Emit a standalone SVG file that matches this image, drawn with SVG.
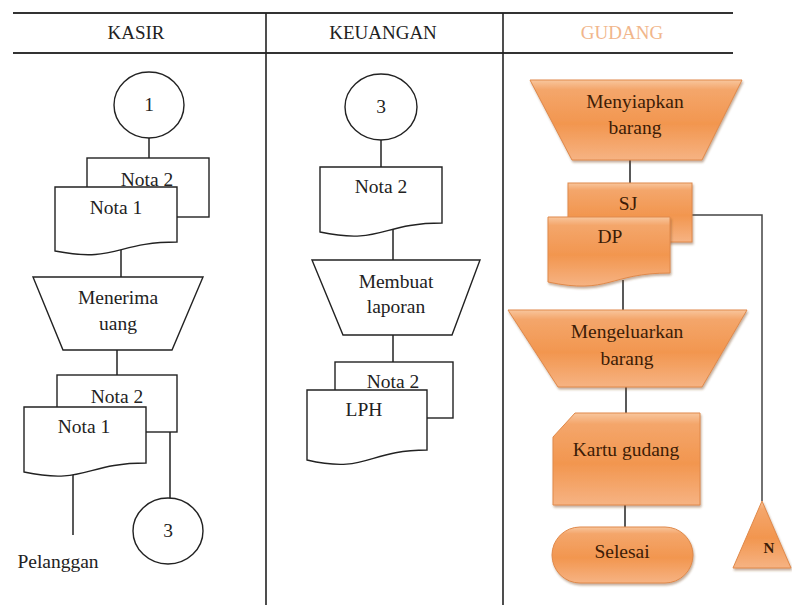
<svg xmlns="http://www.w3.org/2000/svg" width="792" height="605" viewBox="0 0 792 605">
<style>
text{font-family:'Liberation Serif','Times New Roman',serif;font-size:19.5px;text-anchor:middle}
.t{fill:#222}
.g{fill:#3d1c06}
.s{fill:#fff;stroke:#222;stroke-width:1.4}
.o{fill:url(#og);stroke:#e0894a;stroke-width:1;filter:url(#sh)}
.c{stroke:#222;stroke-width:1.5;fill:none}
.rule{stroke:#333;stroke-width:2.2}
.lane{stroke:#222;stroke-width:1.6}
</style>
<defs>
<linearGradient id="og" x1="0" y1="0" x2="0" y2="1">
<stop offset="0" stop-color="#f8c69d"/>
<stop offset="0.12" stop-color="#f4a66b"/>
<stop offset="0.55" stop-color="#f2964f"/>
<stop offset="1" stop-color="#f6b383"/>
</linearGradient>
<filter id="sh" x="-10%" y="-10%" width="130%" height="140%">
<feDropShadow dx="1" dy="2" stdDeviation="1.2" flood-color="#7a4a20" flood-opacity="0.45"/>
</filter>
</defs>
<rect width="792" height="605" fill="#fff"/>
<g id="header">
<line class="rule" x1="13" y1="13" x2="733" y2="13"/>
<line class="rule" x1="13" y1="53" x2="733" y2="53"/>
<line class="lane" x1="266" y1="13" x2="266" y2="605"/>
<line class="lane" x1="503" y1="13" x2="503" y2="605"/>
<text class="t" x="136" y="39" style="font-size:19px">KASIR</text>
<text class="t" x="383" y="39" style="font-size:19px">KEUANGAN</text>
<text x="622" y="39" fill="#f1b68b" style="font-size:19px">GUDANG</text>
</g>
<g id="connectors">
<line class="c" x1="149" y1="138" x2="149" y2="158"/>
<line class="c" x1="121" y1="250" x2="121" y2="277"/>
<line class="c" x1="117" y1="350" x2="117" y2="375"/>
<line class="c" x1="170" y1="432" x2="170" y2="498"/>
<line class="c" x1="73" y1="470" x2="73" y2="535"/>
<line class="c" x1="381" y1="140" x2="381" y2="167"/>
<line class="c" x1="393" y1="228" x2="393" y2="260"/>
<line class="c" x1="393" y1="335" x2="393" y2="362"/>
<line class="c" x1="630" y1="160" x2="630" y2="183"/>
<polyline class="c" points="692,215 762,215 762,501" style="stroke:#444"/>
<line class="c" x1="623" y1="280" x2="623" y2="310"/>
<line class="c" x1="626" y1="387" x2="626" y2="413"/>
<line class="c" x1="625" y1="505" x2="625" y2="527"/>
</g>
<g id="kasir-start">
<ellipse class="s" cx="149" cy="105" rx="35" ry="33"/>
<text class="t" x="149" y="111">1</text>
</g>
<g id="kasir-docs1">
<rect class="s" x="87" y="158" width="122" height="59"/>
<path class="s" d="M55,187 H177 V242 C116,242 116,263 55,251 Z"/>
<text class="t" x="147" y="186">Nota 2</text>
<text class="t" x="116" y="214">Nota 1</text>
</g>
<g id="kasir-process">
<path class="s" d="M33,277 H203 L172,350 H63 Z"/>
<text class="t" x="118" y="304">Menerima</text>
<text class="t" x="118" y="330">uang</text>
</g>
<g id="kasir-docs2">
<rect class="s" x="57" y="375" width="120" height="57"/>
<path class="s" d="M24,407 H146 V463 C85,463 85,485 24,472 Z"/>
<text class="t" x="117" y="403">Nota 2</text>
<text class="t" x="84" y="433">Nota 1</text>
</g>
<g id="kasir-conn3">
<ellipse class="s" cx="168" cy="531" rx="35" ry="33"/>
<text class="t" x="168" y="537">3</text>
</g>
<g id="pelanggan">
<text class="t" x="58" y="568">Pelanggan</text>
</g>
<g id="keu-conn3">
<ellipse class="s" cx="381" cy="107" rx="36" ry="33"/>
<text class="t" x="381" y="113">3</text>
</g>
<g id="keu-nota2">
<path class="s" d="M320,167 H442 V223 C381,223 381,245 320,232 Z"/>
<text class="t" x="381" y="193">Nota 2</text>
</g>
<g id="keu-process">
<path class="s" d="M312,260 H480 L452,335 H343 Z"/>
<text class="t" x="396" y="288">Membuat</text>
<text class="t" x="396" y="313">laporan</text>
</g>
<g id="keu-docs">
<rect class="s" x="335" y="362" width="118" height="56"/>
<path class="s" d="M307,390 H427 V450 C367,450 367,474 307,460 Z"/>
<text class="t" x="393" y="388">Nota 2</text>
<text class="t" x="364" y="416">LPH</text>
</g>
<g id="gud-prepare">
<path class="o" d="M530,80 H742 L702,160 H572 Z"/>
<text class="g" x="635" y="108">Menyiapkan</text>
<text class="g" x="635" y="134">barang</text>
</g>
<g id="gud-docs">
<rect class="o" x="568" y="183" width="124" height="59"/>
<path class="o" d="M548,217 H670 V273 C609,273 609,295 548,282 Z"/>
<text class="g" x="628" y="210">SJ</text>
<text class="g" x="610" y="243">DP</text>
</g>
<g id="gud-release">
<path class="o" d="M508,310 H747 L702,387 H558 Z"/>
<text class="g" x="627" y="338">Mengeluarkan</text>
<text class="g" x="627" y="365">barang</text>
</g>
<g id="gud-card">
<path class="o" d="M575,413 H700 V505 H553 V437 Z"/>
<text class="g" x="626" y="456">Kartu gudang</text>
</g>
<g id="gud-end">
<rect class="o" x="552" y="527" width="141" height="56" rx="28" ry="28"/>
<text class="g" x="622" y="558">Selesai</text>
</g>
<g id="gud-offpage">
<path class="o" d="M762,501 L791,568 H733 Z"/>
<text class="g" x="769" y="553" style="font-size:15px;font-weight:bold">N</text>
</g>
</svg>
